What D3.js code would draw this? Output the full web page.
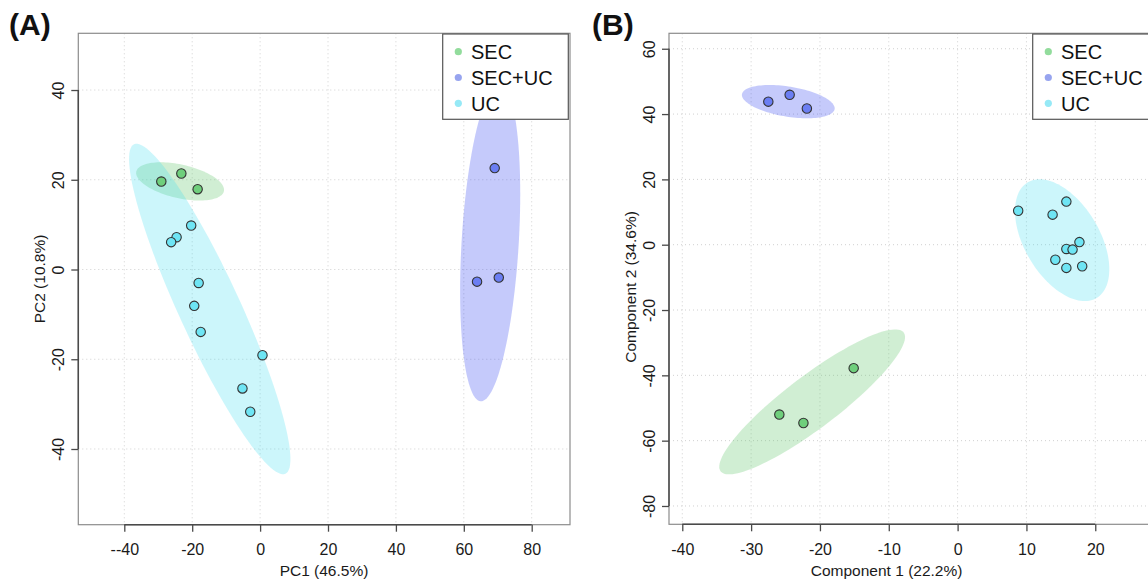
<!DOCTYPE html>
<html>
<head>
<meta charset="utf-8">
<script src="https://cdn.jsdelivr.net/npm/d3@7"></script>
<style>
  html, body { margin: 0; padding: 0; background: #fff; }
  svg { display: block; font-family: "Liberation Sans", Arial, Helvetica, sans-serif; }
</style>
</head>
<body>
<svg id="fig" width="1148" height="579"></svg>
<script>
// Sample groups (legend order)
const groups = ["SEC", "SEC+UC", "UC"];

// (A) PCA scores: [PC1, PC2]
const pcaSEC   = [[-29.1, 19.6], [-23.2, 21.4], [-18.4, 17.9]];
const pcaSECUC = [[69.1, 22.6], [63.9, -2.7], [70.3, -1.8]];
const pcaUC    = [[-20.3, 9.8], [-24.6, 7.2], [-26.2, 6.1], [-18.1, -3.0], [-19.4, -8.1],
                  [-17.5, -13.9], [0.7, -19.1], [-5.2, -26.5], [-2.9, -31.7]];

// (B) PLS-DA scores: [Component 1, Component 2]
const plsSEC   = [[-15.1, -37.8], [-25.9, -52.0], [-22.4, -54.6]];
const plsSECUC = [[-27.5, 43.8], [-24.4, 45.9], [-21.9, 41.7]];
const plsUC    = [[8.8, 10.4], [13.8, 9.2], [15.8, 13.2], [17.7, 0.8], [15.8, -1.3],
                  [16.7, -1.5], [14.2, -4.6], [15.8, -7.1], [18.1, -6.6]];

// 95% confidence regions: conjugate semi-axes (data units), centred on group means
const pcaEllipseMajor = [[12.9, -2.2], [-2.8, -35.4], [-22.3, 36.7]];
const pcaEllipseMinor = [[-1.1, -3.65], [8.4, -0.4], [8.2, 2.9]];
const plsEllipseMajor = [[13.3, 21.25], [6.73, -2.29], [-5.0, 17.7]];
const plsEllipseMinor = [[2.3, -6.39], [-0.35, -4.55], [4.68, 5.88]];

// Axis limits and ticks
const pcaXLim = [-53.55, 91.28];
const pcaYLim = [-56.87, 52.64];
const pcaXTicks = [-40, -20, 0, 20, 40, 60, 80];
const pcaXTickLabels = ["--40", "-20", "0", "20", "40", "60", "80"];
const pcaYTicks = [-40, -20, 0, 20, 40];
const plsXLim = [-41.93, 29.55];
const plsYLim = [-85.61, 64.73];
const plsXTicks = [-40, -30, -20, -10, 0, 10, 20];
const plsYTicks = [-80, -60, -40, -20, 0, 20, 40, 60];

// Colours
const pointColors  = ["#6fcf7c", "#6b7ef3", "#6ee5f4"];
const legendColors = ["#92dc9c", "#97a4ef", "#96e9f6"];
const ellipseColors = ["rgba(98,200,110,0.30)", "rgba(40,60,240,0.27)", "rgba(50,220,240,0.25)"];

const svg = d3.select("#fig");
const FONT = "'Liberation Sans', Arial, Helvetica, sans-serif";
// plain hyphen-minus tick labels
const plainInt = d => String(d);

function ellipsePath(center, A, B, x, y) {
  const n = 120;
  const pts = d3.range(n).map(i => {
    const t = (i / n) * 2 * Math.PI;
    return [center[0] + Math.cos(t) * A[0] + Math.sin(t) * B[0],
            center[1] + Math.cos(t) * A[1] + Math.sin(t) * B[1]];
  });
  return d3.line().x(d => x(d[0])).y(d => y(d[1])).curve(d3.curveLinearClosed)(pts);
}

function drawPanel(opt) {
  const g = svg.append("g");
  const x = d3.scaleLinear().domain(opt.xLim).range([opt.left, opt.right]);
  const y = d3.scaleLinear().domain(opt.yLim).range([opt.bottom, opt.top]);

  // dotted grid
  const grid = g.append("g").attr("stroke", "#d0d0d0").attr("stroke-width", 1)
    .attr("stroke-dasharray", "1,3");
  grid.selectAll("line.gx").data(opt.xTicks).join("line")
    .attr("x1", d => x(d)).attr("x2", d => x(d))
    .attr("y1", opt.top).attr("y2", opt.bottom);
  grid.selectAll("line.gy").data(opt.yTicks).join("line")
    .attr("y1", d => y(d)).attr("y2", d => y(d))
    .attr("x1", opt.left).attr("x2", opt.right);

  // confidence ellipses
  const clipId = "clip" + opt.id;
  g.append("clipPath").attr("id", clipId).append("rect")
    .attr("x", opt.left).attr("y", opt.top)
    .attr("width", opt.right - opt.left).attr("height", opt.bottom - opt.top);
  const eg = g.append("g").attr("clip-path", `url(#${clipId})`);
  opt.series.forEach((pts, i) => {
    const c = [d3.mean(pts, d => d[0]), d3.mean(pts, d => d[1])];
    eg.append("path")
      .attr("d", ellipsePath(c, opt.major[i], opt.minor[i], x, y))
      .attr("fill", ellipseColors[i]).attr("stroke", "none");
  });

  // sample points
  opt.series.forEach((pts, i) => {
    g.append("g").selectAll("circle").data(pts).join("circle")
      .attr("cx", d => x(d[0])).attr("cy", d => y(d[1])).attr("r", 4.7)
      .attr("fill", pointColors[i]).attr("stroke", "#333").attr("stroke-width", 1.1);
  });

  // plot box
  g.append("rect").attr("x", opt.left).attr("y", opt.top)
    .attr("width", opt.right - opt.left).attr("height", opt.bottom - opt.top)
    .attr("fill", "none").attr("stroke", "#8c8c8c").attr("stroke-width", 1.2);

  // bottom axis
  const xAxis = d3.axisBottom(x).tickValues(opt.xTicks)
    .tickFormat((d, i) => opt.xTickLabels ? opt.xTickLabels[i] : plainInt(d))
    .tickSize(7).tickSizeOuter(0);
  const gx = g.append("g").attr("transform", `translate(0,${opt.bottom})`).call(xAxis);
  gx.select(".domain")
    .attr("d", `M${x(opt.xTicks[0])},0H${x(opt.xTicks[opt.xTicks.length - 1])}`)
    .attr("stroke", "#4a4a4a").attr("stroke-width", 1.5);
  gx.selectAll(".tick line").attr("stroke", "#4a4a4a").attr("stroke-width", 1.3);
  gx.selectAll(".tick text").attr("y", 30.5).attr("dy", 0)
    .attr("font-size", 16).attr("font-family", FONT).attr("fill", "#1a1a1a");

  // left axis, labels rotated
  const yAxis = d3.axisLeft(y).tickValues(opt.yTicks).tickFormat(plainInt)
    .tickSize(7).tickSizeOuter(0);
  const gy = g.append("g").attr("transform", `translate(${opt.left},0)`).call(yAxis);
  gy.select(".domain")
    .attr("d", `M0,${y(opt.yTicks[0])}V${y(opt.yTicks[opt.yTicks.length - 1])}`)
    .attr("stroke", "#4a4a4a").attr("stroke-width", 1.5);
  gy.selectAll(".tick line").attr("stroke", "#4a4a4a").attr("stroke-width", 1.3);
  gy.selectAll(".tick text")
    .attr("x", 0).attr("dy", 0)
    .attr("transform", "translate(-14.5,0) rotate(-90)")
    .attr("text-anchor", "middle")
    .attr("font-size", 16).attr("font-family", FONT).attr("fill", "#1a1a1a");

  // axis titles
  g.append("text").attr("x", opt.xTitleX).attr("y", 576)
    .attr("text-anchor", "middle").attr("font-size", 15.5).attr("fill", "#1a1a1a")
    .text(opt.xTitle);
  g.append("text")
    .attr("transform", `translate(${opt.left - 33},${opt.yTitleY}) rotate(-90)`)
    .attr("text-anchor", "middle").attr("font-size", 15.5).attr("fill", "#1a1a1a")
    .text(opt.yTitle);

  // legend
  const lg = g.append("g");
  lg.append("rect").attr("x", opt.legendX).attr("y", 34)
    .attr("width", 125.6).attr("height", 85.3)
    .attr("fill", "#fff").attr("stroke", "#555").attr("stroke-width", 1.2);
  groups.forEach((name, i) => {
    const cy = 51.7 + i * 25.8;
    lg.append("circle").attr("cx", opt.legendX + 15.6).attr("cy", cy).attr("r", 3.6)
      .attr("fill", legendColors[i]);
    lg.append("text").attr("x", opt.legendX + 28.3).attr("y", cy).attr("dy", "0.36em")
      .attr("font-size", 20).attr("fill", "#111").text(name);
  });

  // panel tag
  g.append("text").attr("x", opt.tagX).attr("y", 35)
    .attr("font-size", 30).attr("font-weight", "bold").attr("fill", "#111")
    .text(opt.tag);
}

drawPanel({
  id: "A", tag: "(A)", tagX: 9,
  left: 78.3, right: 570, top: 33.3, bottom: 524.7,
  xLim: pcaXLim, yLim: pcaYLim,
  xTicks: pcaXTicks, xTickLabels: pcaXTickLabels, yTicks: pcaYTicks,
  series: [pcaSEC, pcaSECUC, pcaUC],
  major: pcaEllipseMajor, minor: pcaEllipseMinor,
  xTitle: "PC1 (46.5%)", yTitle: "PC2 (10.8%)",
  xTitleX: 324, yTitleY: 279,
  legendX: 442.7
});

drawPanel({
  id: "B", tag: "(B)", tagX: 592,
  left: 669, right: 1161, top: 33.3, bottom: 524.3,
  xLim: plsXLim, yLim: plsYLim,
  xTicks: plsXTicks, xTickLabels: null, yTicks: plsYTicks,
  series: [plsSEC, plsSECUC, plsUC],
  major: plsEllipseMajor, minor: plsEllipseMinor,
  xTitle: "Component 1 (22.2%)", yTitle: "Component 2 (34.6%)",
  xTitleX: 886.6, yTitleY: 287,
  legendX: 1032.7
});
</script>
</body>
</html>
